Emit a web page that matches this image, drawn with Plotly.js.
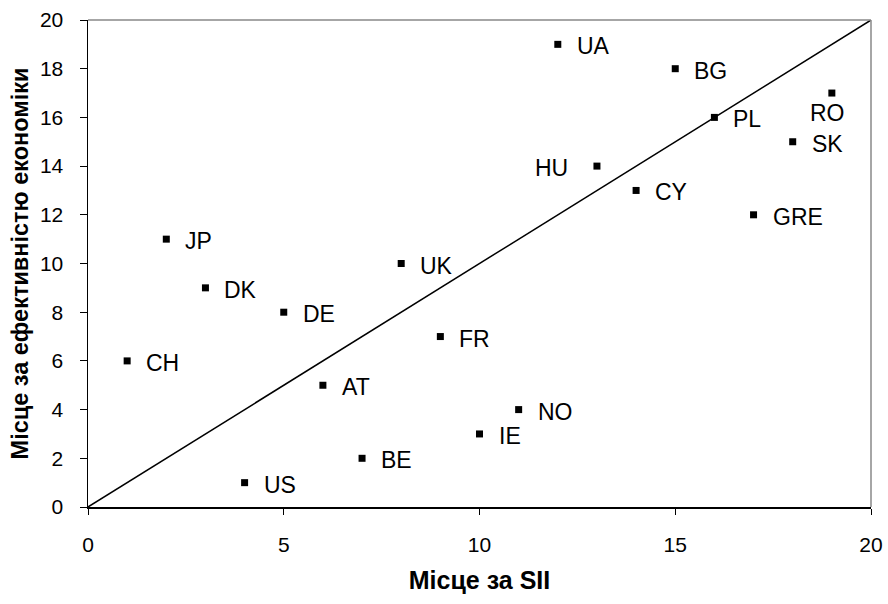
<!DOCTYPE html>
<html>
<head>
<meta charset="utf-8">
<script src="https://cdn.plot.ly/plotly-3.0.1.min.js"></script>
<style>html,body{margin:0;padding:0;background:#fff;}#chart{width:888px;height:604px;}</style>
</head>
<body>
<div id="chart"></div>
<script>
const countries = ["UA","BG","PL","RO","SK","HU","CY","GRE","JP","UK","DK","DE","FR","CH","AT","NO","IE","BE","US"];
const siiRank   = [12,15,16,19,18,13,14,17,2,8,3,5,9,1,6,11,10,7,4];
const effRank   = [19,18,16,17,15,14,13,12,11,10,9,8,7,6,5,4,3,2,1];
const xTicks = [0,5,10,15,20];
const yTicks = [0,2,4,6,8,10,12,14,16,18,20];
const diagX = [0,20];
const diagY = [0,20];

// label placement (style only)
const labelPlace = {
  RO: {xanchor:"center", xshift:-4, yshift:-20},
  HU: {xanchor:"right", xshift:-27, yshift:-2}
};

const font = "Arial, 'Liberation Sans', sans-serif";

const annotations = countries.map((c,i)=>{
  const p = labelPlace[c] || {xanchor:"left", xshift:17, yshift:-2};
  return {x: siiRank[i], y: effRank[i], xref:"x", yref:"y", text:c, showarrow:false,
    xanchor:p.xanchor, yanchor:"middle", xshift:p.xshift, yshift:p.yshift,
    font:{family:font, size:23, color:"#000"}};
});

const traces = [
  {x: diagX, y: diagY, mode:"lines", line:{color:"#000", width:1.5}, hoverinfo:"skip", cliponaxis:false},
  {x: siiRank, y: effRank, mode:"markers", marker:{symbol:"square", size:7, color:"#000"}, cliponaxis:false}
];

const layout = {
  width:888, height:604,
  margin:{l:88, r:17, t:20, b:97},
  paper_bgcolor:"#fff", plot_bgcolor:"#fff",
  showlegend:false,
  font:{family:font, color:"#000"},
  xaxis:{range:[0,20], tickvals:xTicks, ticktext:xTicks.map(String), showgrid:false, zeroline:false,
    showline:true, linecolor:"#000", linewidth:1.5, ticks:"outside", ticklen:6, tickcolor:"#000",
    tickfont:{size:21, family:font}, ticklabelstandoff:12,
    title:{text:"Місце за SII", font:{size:25, family:font, weight:"bold"}, standoff:17}},
  yaxis:{range:[0,20], tickvals:yTicks, ticktext:yTicks.map(String), showgrid:false, zeroline:false,
    showline:true, linecolor:"#000", linewidth:1.5, ticks:"outside", ticklen:7, tickcolor:"#000",
    tickfont:{size:21, family:font}, ticklabelstandoff:12,
    title:{text:"Місце за ефективністю економіки", font:{size:23.5, family:font, weight:"bold"}, standoff:4}},
  shapes:[
    {type:"line", xref:"paper", yref:"paper", x0:0, x1:1, y0:1, y1:1, line:{color:"#888", width:1.5}},
    {type:"line", xref:"paper", yref:"paper", x0:1, x1:1, y0:0, y1:1, line:{color:"#888", width:1.5}}
  ],
  annotations: annotations
};

Plotly.newPlot("chart", traces, layout, {displayModeBar:false, staticPlot:true});
</script>
</body>
</html>
